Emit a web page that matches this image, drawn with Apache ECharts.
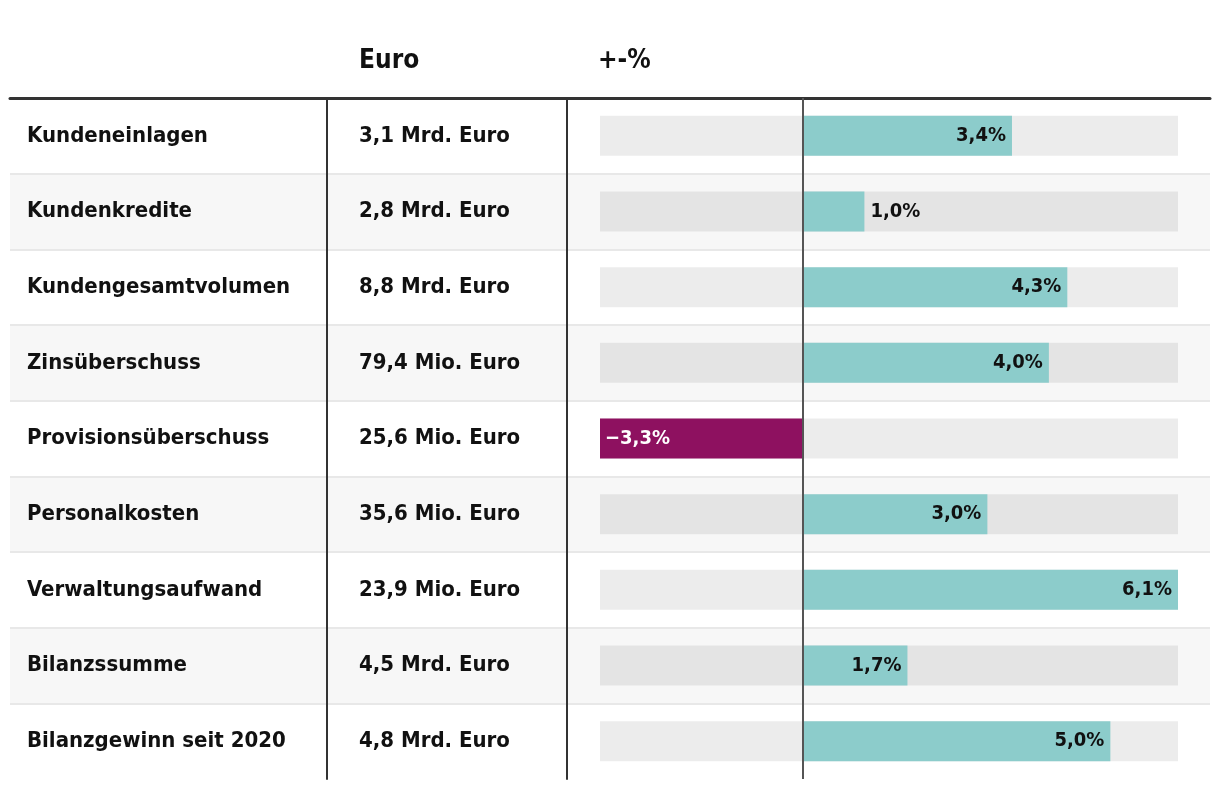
<!DOCTYPE html>
<html>
<head>
<meta charset="utf-8">
<script src="https://cdn.jsdelivr.net/npm/echarts@6/dist/echarts.min.js"></script>
<style>
html,body{margin:0;padding:0;background:#fff;}
#chart{width:1220px;height:788px;}
</style>
</head>
<body>
<div id="chart"></div>
<script>
var categories = ["Kundeneinlagen","Kundenkredite","Kundengesamtvolumen","Zinsüberschuss","Provisionsüberschuss","Personalkosten","Verwaltungsaufwand","Bilanzssumme","Bilanzgewinn seit 2020"];
var euroValues = ["3,1 Mrd. Euro","2,8 Mrd. Euro","8,8 Mrd. Euro","79,4 Mio. Euro","25,6 Mio. Euro","35,6 Mio. Euro","23,9 Mio. Euro","4,5 Mrd. Euro","4,8 Mrd. Euro"];
var changes = [3.4, 1.0, 4.3, 4.0, -3.3, 3.0, 6.1, 1.7, 5.0];
var headers = ["Euro", "+-%"];

var FONT = "'Liberation Sans Narrow', 'DejaVu Sans Condensed', 'Roboto Condensed', sans-serif";
var POS = '#8ccccb', NEG = '#8e1160';

function fmt(v){
  var s = Math.abs(v).toFixed(1).replace('.', ',') + '%';
  return (v < 0 ? '\u2212' : '') + s;
}

var minV = Math.min.apply(null, changes);
var maxV = Math.max.apply(null, changes);

var barData = changes.map(function(v){
  var label;
  if (v < 0) label = {position:'insideLeft', color:'#fff', distance:5};
  else if (v < 1.5) label = {position:'right', color:'#111', distance:6};
  else label = {position:'insideRight', color:'#111', distance:6};
  return {value:v, itemStyle:{color: v < 0 ? NEG : POS}, label: label};
});

// split line colours: visible between rows, hidden at the bottom edge
var splitColors = categories.map(function(){ return '#e8e8e8'; });
splitColors.push('rgba(255,255,255,0)');

var chart = echarts.init(document.getElementById('chart'), null, {renderer:'canvas'});
chart.setOption({
  animation:false,
  backgroundColor:'#fff',
  textStyle:{fontFamily:FONT},
  title:[
    {text:headers[0], left:359, top:48, padding:0, textStyle:{fontFamily:FONT, fontSize:26, fontWeight:'bold', color:'#111'}},
    {text:headers[1], left:598, top:48, padding:0, textStyle:{fontFamily:FONT, fontSize:26, fontWeight:'bold', color:'#111'}}
  ],
  grid:[
    {left:10, width:1200, top:98, height:681},
    {left:327, width:240, top:98, height:681},
    {left:600, width:578, top:98, height:681}
  ],
  xAxis:[
    {gridIndex:0, type:'value', min:0, max:1, position:'top',
     axisLine:{show:true, onZero:false, lineStyle:{color:'#333', width:3}},
     axisTick:{show:false}, axisLabel:{show:false}, splitLine:{show:false}},
    {gridIndex:1, type:'value', show:false, min:0, max:1},
    {gridIndex:2, type:'value', show:false, min:minV, max:maxV}
  ],
  yAxis:[
    {gridIndex:0, type:'category', inverse:true, data:categories,
     axisLine:{show:false}, axisTick:{show:false},
     axisLabel:{inside:true, margin:17, fontFamily:FONT, fontSize:22, fontWeight:'bold', color:'#111'},
     splitArea:{show:true, areaStyle:{color:['#ffffff','#f7f7f7']}},
     splitLine:{show:true, lineStyle:{color:splitColors, width:2}}},
    {gridIndex:1, type:'category', inverse:true, data:euroValues,
     axisLine:{show:true, onZero:false, lineStyle:{color:'#333', width:2}}, axisTick:{show:false},
     axisLabel:{inside:true, margin:32, fontFamily:FONT, fontSize:22, fontWeight:'bold', color:'#111'},
     splitLine:{show:false}},
    {gridIndex:2, type:'category', inverse:true, data:categories, offset:33,
     axisLine:{show:true, onZero:false, lineStyle:{color:'#333', width:2}}, axisTick:{show:false},
     axisLabel:{show:false}, splitLine:{show:false}}
  ],
  series:[
    {type:'bar', xAxisIndex:2, yAxisIndex:2, data:barData, barWidth:40,
     showBackground:true, backgroundStyle:{color:'rgba(0,0,0,0.075)'},
     label:{show:true, fontFamily:FONT, fontSize:20, fontWeight:'bold', formatter:function(p){return fmt(p.value);}},
     markLine:{silent:true, symbol:['none','none'], label:{show:false},
       lineStyle:{color:'#555', width:2, type:'solid'}, data:[{xAxis:0}]}}
  ]
});
</script>
</body>
</html>
